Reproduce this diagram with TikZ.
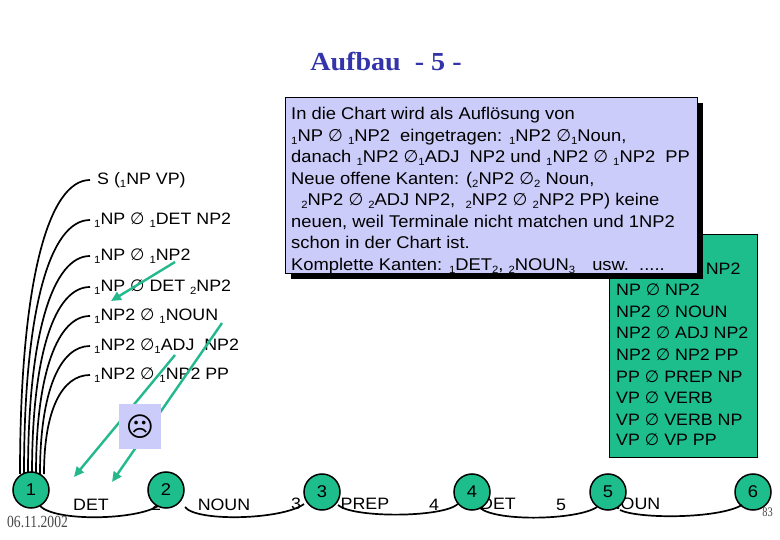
\documentclass[tikz,border=0pt]{standalone}
\usepackage{fontspec}
\setmainfont{Liberation Sans}[FakeStretch=1.08]
\newfontfamily\titlefont{Liberation Serif}[FakeStretch=1.08]
\newfontfamily\datefont{Liberation Serif}[FakeStretch=0.8]
\newfontfamily\symfont{DejaVu Sans}
\newcommand\es{{\symfont ∅}}
\newcommand\lo[1]{\raisebox{-3pt}{\fontsize{10.5}{10}\selectfont #1}}
\usetikzlibrary{arrows.meta,calc}
\definecolor{nodegreen}{RGB}{30,190,140}
\definecolor{arrgreen}{RGB}{35,185,140}
\definecolor{lav}{RGB}{204,204,250}
\definecolor{titleblue}{RGB}{51,51,170}
\definecolor{dategray}{RGB}{70,70,70}
\begin{document}
\begin{tikzpicture}[x=1pt,y=-1pt,
  lbl/.style={anchor=base west,inner sep=0pt,font=\fontsize{16.5}{18}\selectfont},
  boxtxt/.style={anchor=base west,inner sep=0pt,font=\fontsize{17}{18}\selectfont},
  gtxt/.style={anchor=base west,inner sep=0pt,font=\fontsize{16.5}{18}\selectfont},
  elbl/.style={anchor=base,inner sep=0pt,font=\fontsize{16.5}{18}\selectfont},
  arcline/.style={line width=1.7pt,black},
  garrow/.style={draw=arrgreen,line width=2.4pt,-{Triangle[length=10pt,width=9pt]}},
  state/.style={circle,draw=black,line width=1.5pt,fill=nodegreen,minimum size=36pt,inner sep=0pt,font=\fontsize{17}{17}\selectfont}]
\useasboundingbox (0,0) rectangle (780,540);

% title
\node[anchor=base,inner sep=0pt,font=\titlefont\bfseries\fontsize{26}{28}\selectfont,text=titleblue] (title) at (386,71) {Aufbau\ \ - 5 -};

% left labels
\node[lbl] (l1) at (97,185) {S (\lo{1}NP VP)};
\node[lbl] (l2) at (94,225) {\lo{1}NP \es{} \lo{1}DET NP2};
\node[lbl] (l3) at (94,261) {\lo{1}NP \es{} \lo{1}NP2};
\node[lbl] (l4) at (94,292) {\lo{1}NP \es{} DET \lo{2}NP2};
\node[lbl] (l5) at (94,321) {\lo{1}NP2 \es{} \lo{1}NOUN};
\node[lbl] (l6) at (94,351) {\lo{1}NP2 \es\lo{1}ADJ\ \ NP2};
\node[lbl] (l7) at (94,380) {\lo{1}NP2 \es{} \lo{1}NP2 PP};

% arc end points
\coordinate (a1) at (20,474); \coordinate (e1) at (90,180);
\coordinate (a2) at (24,474); \coordinate (e2) at (90,220);
\coordinate (a3) at (28,474); \coordinate (e3) at (90,256);
\coordinate (a4) at (32,474); \coordinate (e4) at (90,287);
\coordinate (a5) at (36,474); \coordinate (e5) at (90,316);
\coordinate (a6) at (40,474); \coordinate (e6) at (90,346);
\coordinate (a7) at (44,474); \coordinate (e7) at (90,375);
\draw[arcline] (a1) .. controls (20,283) and (48,180) .. (e1);
\draw[arcline] (a2) .. controls (24,309) and (50,220) .. (e2);
\draw[arcline] (a3) .. controls (28,333) and (53,256) .. (e3);
\draw[arcline] (a4) .. controls (32,353) and (55,287) .. (e4);
\draw[arcline] (a5) .. controls (36,372) and (58,316) .. (e5);
\draw[arcline] (a6) .. controls (40,391) and (60,346) .. (e6);
\draw[arcline] (a7) .. controls (44,410) and (62,375) .. (e7);

% green arrows
\coordinate (g1s) at (175,262); \coordinate (g1e) at (111,301);
\coordinate (g2s) at (175,355); \coordinate (g2e) at (74,477);
\coordinate (g3s) at (222,323); \coordinate (g3e) at (112,482);
\draw[garrow] (g1s) -- (g1e);
\draw[garrow] (g2s) -- (g2e);
\draw[garrow] (g3s) -- (g3e);

% sad box
\node[fill=lav,minimum width=42pt,minimum height=45pt,inner sep=0pt,font=\symfont\fontsize{27}{27}\selectfont] (sad) at (140,426.5) {☹};

% grammar box
\node[draw=black,line width=0.8pt,fill=nodegreen,minimum width=148pt,minimum height=223pt,inner sep=0pt] (gram) at (683,345.5) {};
\node[gtxt] (r1) at (616,275) {NP \es{} DET NP2};
\node[gtxt] (r2) at (616,296) {NP \es{} NP2};
\node[gtxt] (r3) at (616,318) {NP2 \es{} NOUN};
\node[gtxt] (r4) at (616,339) {NP2 \es{} ADJ NP2};
\node[gtxt] (r5) at (616,361) {NP2 \es{} NP2 PP};
\node[gtxt] (r6) at (616,382) {PP \es{} PREP NP};
\node[gtxt] (r7) at (616,403) {VP \es{} VERB};
\node[gtxt] (r8) at (616,425) {VP \es{} VERB NP};
\node[gtxt] (r9) at (616,446) {VP \es{} VP PP};

% explanation box with shadow
\node[fill=black,minimum width=412pt,minimum height=176pt,inner sep=0pt] (shadow) at (497,191) {};
\node[draw=black,line width=0.8pt,fill=lav,minimum width=412pt,minimum height=176pt,inner sep=0pt] (expl) at (491,185) {};
\node[boxtxt] (t1) at (291,120) {In die Chart wird als Auflösung von};
\node[boxtxt] (t2) at (291,141.5) {\lo{1}NP \es{} \lo{1}NP2\ \ eingetragen: \lo{1}NP2 \es\lo{1}Noun,};
\node[boxtxt] (t3) at (291,163) {danach \lo{1}NP2 \es\lo{1}ADJ\ \ NP2 und \lo{1}NP2 \es{} \lo{1}NP2\ \ PP};
\node[boxtxt] (t4) at (291,184.5) {Neue offene Kanten: (\lo{2}NP2 \es\lo{2} Noun,};
\node[boxtxt] (t5) at (291,206) {\ \ \lo{2}NP2 \es{} \lo{2}ADJ NP2,\ \ \lo{2}NP2 \es{} \lo{2}NP2 PP) keine};
\node[boxtxt] (t6) at (291,227.5) {neuen, weil Terminale nicht matchen und 1NP2};
\node[boxtxt] (t7) at (291,249) {schon in der Chart ist.};
\node[boxtxt] (t8) at (291,270.5) {Komplette Kanten: \lo{1}DET\lo{2}, \lo{2}NOUN\lo{3}\quad usw.\ \ .....};

% edge labels (behind nodes)
\node[elbl] (d1) at (91,510) {DET};
\node[elbl] (k2) at (156,510) {2};
\node[elbl] (d2) at (224,510) {NOUN};
\node[elbl] (k3) at (296,509) {3};
\node[elbl] (d3) at (365,509) {PREP};
\node[elbl] (k4) at (434,510) {4};
\node[elbl] (d4) at (498,509) {DET};
\node[elbl] (k5) at (561,510) {5};
\node[elbl] (d5) at (634,509) {NOUN};

% chart nodes
\node[state] (n1) at (31,490) {1};
\node[state] (n2) at (166,490) {2};
\node[state] (n3) at (322,492) {3};
\node[state] (n4) at (472,492) {4};
\node[state] (n5) at (608,492) {5};
\node[state] (n6) at (753,492) {6};

% bottom curves
\draw[arcline] ($(n1)+(9,16)$) .. controls ($(n1)+(25,32)$) and ($(n2)+(-30,30)$) .. ($(n2)+(-8,16)$);
\draw[arcline] ($(n2)+(19,17)$) .. controls ($(n2)+(30,32)$) and ($(n3)+(-40,28)$) .. ($(n3)+(-18,12)$);
\draw[arcline] ($(n3)+(16,13)$) .. controls ($(n3)+(30,26)$) and ($(n4)+(-30,26)$) .. ($(n4)+(-14,12)$);
\draw[arcline] ($(n4)+(8,16)$) .. controls ($(n4)+(25,30)$) and ($(n5)+(-30,28)$) .. ($(n5)+(-11,15)$);
\draw[arcline] ($(n5)+(12,18)$) .. controls ($(n5)+(30,27)$) and ($(n6)+(-35,27)$) .. ($(n6)+(-11,13)$);

% footer
\node[anchor=base west,inner sep=0pt,font=\datefont\fontsize{17}{17}\selectfont,text=dategray] (date) at (7,527) {06.11.2002};
\node[anchor=base east,inner sep=0pt,font=\datefont\fontsize{13}{13}\selectfont,text=dategray] (pg) at (773,516) {83};
\end{tikzpicture}
\end{document}
